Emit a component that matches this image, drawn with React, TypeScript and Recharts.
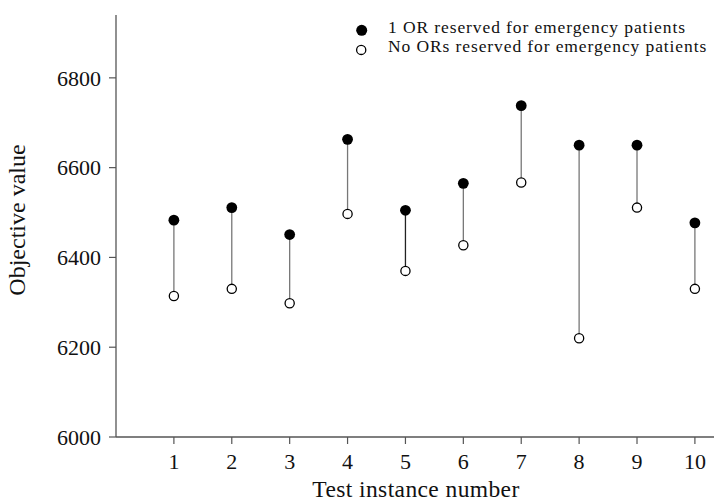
import React from 'react';
import { ScatterChart, Scatter, XAxis, YAxis, Label } from 'recharts';

const instances = [1, 2, 3, 4, 5, 6, 7, 8, 9, 10];
const oneReserved = [6483, 6511, 6451, 6663, 6505, 6565, 6738, 6650, 6650, 6477];
const noneReserved = [6314, 6330, 6298, 6497, 6370, 6427, 6567, 6220, 6511, 6330];
const yTicks = [6000, 6200, 6400, 6600, 6800];

const serif = '"Liberation Serif", "Times New Roman", serif';

const filledData = instances.map((x, i) => ({ x, y: oneReserved[i] }));
const openData = instances.map((x, i) => ({ x, y: noneReserved[i] }));
// one little two-point series per instance, only used to draw the connecting stem
const stems = instances.map((x, i) => [
  { x, y: noneReserved[i] },
  { x, y: oneReserved[i] },
]);

const FilledDot = (props: any) => <circle cx={props.cx} cy={props.cy} r={5.4} fill="#000" />;
const OpenDot = (props: any) => (
  <circle cx={props.cx} cy={props.cy} r={4.6} fill="#fff" stroke="#000" strokeWidth={1.3} />
);
const NoDot = () => <g />;

const XTitle = (props: any) => {
  const vb = props.viewBox;
  return (
    <text
      x={vb.x + vb.width / 2 + 1}
      y={vb.y + 60}
      textAnchor="middle"
      fontFamily={serif}
      fontSize={23.5}
      letterSpacing={0.4}
      fill="#111"
    >
      Test instance number
    </text>
  );
};

const YTitle = (props: any) => {
  const vb = props.viewBox;
  const x = vb.x + 25;
  const y = vb.y + vb.height / 2 - 6;
  return (
    <text
      x={x}
      y={y}
      transform={`rotate(-90, ${x}, ${y})`}
      textAnchor="middle"
      fontFamily={serif}
      fontSize={24}
      fill="#111"
    >
      Objective value
    </text>
  );
};

const legendRows = [
  { label: '1 OR reserved for emergency patients', filled: true },
  { label: 'No ORs reserved for emergency patients', filled: false },
];

const ChartLegend = () => (
  <div style={{ position: 'absolute', left: 354, top: 18, fontFamily: serif, fontSize: 17.5, lineHeight: '19px', color: '#111' }}>
    {legendRows.map((row) => (
      <div key={row.label} style={{ height: 19, whiteSpace: 'nowrap' }}>
        <svg width={34} height={19} style={{ display: 'inline-block', verticalAlign: 'top' }}>
          {row.filled ? (
            <circle cx={7.7} cy={12.3} r={5.5} fill="#000" />
          ) : (
            <circle cx={7.2} cy={12.9} r={4.6} fill="#fff" stroke="#000" strokeWidth={1.3} />
          )}
        </svg>
        <span style={{ display: 'inline-block', verticalAlign: 'top', letterSpacing: 0.9 }}>{row.label}</span>
      </div>
    ))}
  </div>
);

export default function App() {
  const tickStyle = { fontFamily: serif, fontSize: 22, fill: '#111' };
  return (
    <div style={{ position: 'absolute', left: 0, top: 0, width: 714, height: 501, background: '#fff' }}>
      <ScatterChart width={714} height={501} margin={{ top: 15, right: 0, bottom: 0, left: 0 }}>
        <XAxis
          type="number"
          dataKey="x"
          domain={[0, 10.33]}
          ticks={instances}
          height={64}
          tickSize={7}
          tickMargin={9}
          tick={tickStyle}
          axisLine={{ stroke: '#555', strokeWidth: 1.3 }}
          tickLine={{ stroke: '#555', strokeWidth: 1.2 }}
          allowDataOverflow
        >
          <Label content={XTitle} />
        </XAxis>
        <YAxis
          type="number"
          dataKey="y"
          domain={[6000, 6940]}
          ticks={yTicks}
          width={116}
          tickSize={7}
          tickMargin={8}
          tick={tickStyle}
          axisLine={{ stroke: '#555', strokeWidth: 1.3 }}
          tickLine={{ stroke: '#555', strokeWidth: 1.2 }}
          allowDataOverflow
        >
          <Label content={YTitle} />
        </YAxis>
        {stems.map((d, i) => (
          <Scatter
            key={i}
            data={d}
            line={{ stroke: i === 4 ? '#222' : '#777', strokeWidth: 1.3 }}
            shape={NoDot}
            legendType="none"
            isAnimationActive={false}
          />
        ))}
        <Scatter data={openData} shape={OpenDot} isAnimationActive={false} />
        <Scatter data={filledData} shape={FilledDot} isAnimationActive={false} />
      </ScatterChart>
      <ChartLegend />
    </div>
  );
}
